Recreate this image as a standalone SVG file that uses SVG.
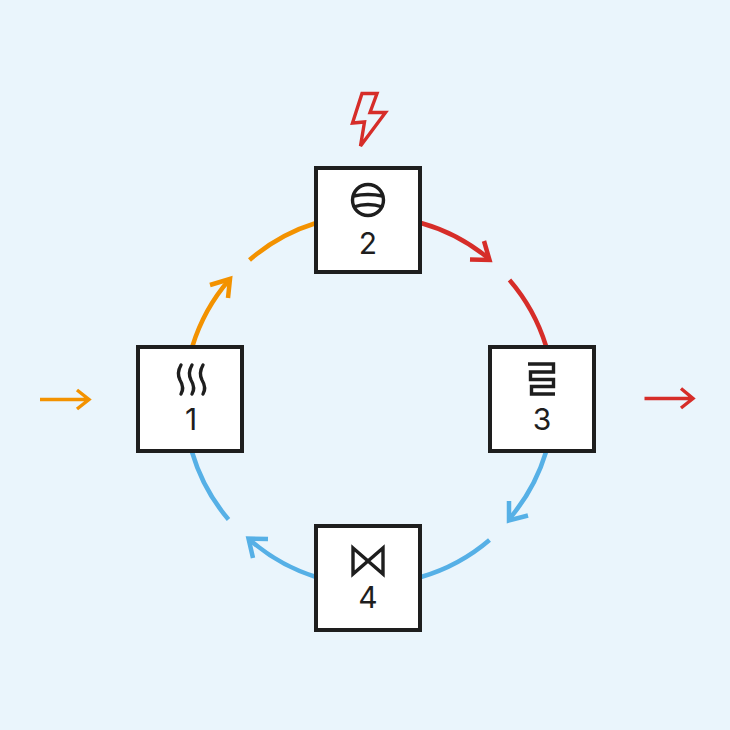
<svg xmlns="http://www.w3.org/2000/svg" width="730" height="730" viewBox="0 0 730 730">
<style>
.n{fill:#fff;stroke:#1e1e1e;stroke-width:4}
.i{fill:none;stroke:#1e1e1e;stroke-width:3.400}
.t{font-family:Inter,"Liberation Sans",sans-serif;font-size:30px;fill:#1e1e1e;text-anchor:middle}
.c{fill:none;stroke-width:4.500;stroke-linejoin:miter;stroke-miterlimit:10}
.a{stroke-width:3.400}
.o{stroke:#f39200}.r{stroke:#d62d29}.b{stroke:#56b0e6}
</style>
<rect width="730" height="730" fill="#eaf5fc"/>
<g id="connectors">
<path class="c o" d="M192.500 346A184 184 0 0 1 229 280"/><polyline class="c o" points="210,285 230,279 228,298"/>
<path class="c o" d="M249.500 260A184 184 0 0 1 316 223"/>
<path class="c r" d="M421 223A184 184 0 0 1 488 258"/><polyline class="c r" points="484,241 489.500,260 470,259.500"/>
<path class="c r" d="M509.500 280A184 184 0 0 1 546 346"/>
<path class="c b" d="M546 452A184 184 0 0 1 510 518"/><polyline class="c b" points="509,501 509,520.500 528,515.500"/>
<path class="c b" d="M489.500 540A184 184 0 0 1 421 577"/>
<path class="c b" d="M316 577A184 184 0 0 1 250 540"/><polyline class="c b" points="268,539 248.500,538.500 253,558"/>
<path class="c b" d="M228.500 519.500A184 184 0 0 1 192 452"/>
<path class="c a o" d="M40 399.500H88M77 390L89 399.500L77 409"/>
<path class="c a r" d="M644.500 398.500H692M681 388.500L693 398.500L681 408"/>
</g>
<polygon id="spark" points="362,93.500 377,93.500 370,112.500 385.500,112.500 360.500,146 364.500,122 352.500,123" fill="none" stroke="#d62d29" stroke-width="3.400"/>
<g id="node-1"><rect class="n" x="138" y="347" width="104" height="104"/>
<path class="i" stroke-linecap="round" d="M181 365C177 372 178 376 180 380C183 385 184 389 181 394M192 365C188 372 189 376 191 380C194 385 195 389 192 394M203 365C199 372 200 376 202 380C205 385 206 389 203 394"/>
<text class="t" x="191" y="430">1</text></g>
<g id="node-2"><rect class="n" x="316" y="168" width="104" height="104"/>
<circle class="i" cx="368" cy="200" r="15.500"/>
<path class="i" d="M353.500 196Q368 193 382.500 196M353.500 207Q368 202 382.500 207"/>
<text class="t" x="368" y="254">2</text></g>
<g id="node-3"><rect class="n" x="490" y="347" width="104" height="104"/>
<path class="i" d="M528 364H553.500V372H530.500V379.500H553.500V386.500H531.500V394H555"/>
<text class="t" x="542" y="430">3</text></g>
<g id="node-4"><rect class="n" x="316" y="526" width="104" height="104"/>
<path class="i" d="M353 548L383 574V548L353 574Z"/>
<text class="t" x="368" y="608">4</text></g>
</svg>
